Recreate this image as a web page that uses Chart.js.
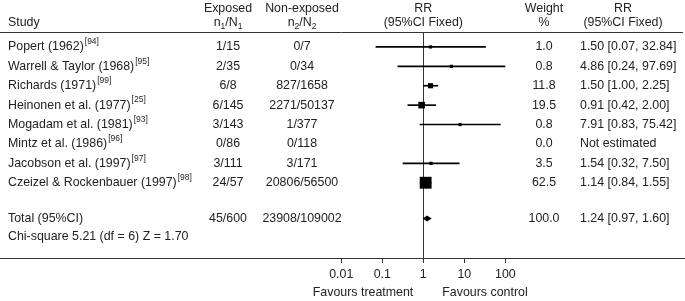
<!DOCTYPE html>
<html>
<head>
<meta charset="utf-8">
<script src="https://cdn.jsdelivr.net/npm/chart.js@4.4.1/dist/chart.umd.min.js"></script>
<style>
html, body { margin: 0; padding: 0; background: #fff; }
</style>
</head>
<body>
<canvas id="myChart" width="685" height="301"></canvas>
<script>
// study rows
var studies = ['Popert (1962)', 'Warrell & Taylor (1968)', 'Richards (1971)', 'Heinonen et al. (1977)',
    'Mogadam et al. (1981)', 'Mintz et al. (1986)', 'Jacobson et al. (1997)', 'Czeizel & Rockenbauer (1997)'];
var refs = ['[94]', '[95]', '[99]', '[25]', '[93]', '[96]', '[97]', '[98]'];
var exposed = ['1/15', '2/35', '6/8', '6/145', '3/143', '0/86', '3/111', '24/57'];
var nonExposed = ['0/7', '0/34', '827/1658', '2271/50137', '1/377', '0/118', '3/171', '20806/56500'];
var rr = [1.50, 4.86, 1.50, 0.91, 7.91, null, 1.54, 1.14];
var lower = [0.07, 0.24, 1.00, 0.42, 0.83, null, 0.32, 0.84];
var upper = [32.84, 97.69, 2.25, 2.00, 75.42, null, 7.50, 1.55];
var weight = [1.0, 0.8, 11.8, 19.5, 0.8, 0.0, 3.5, 62.5];

// pooled result
var totalLabel = 'Total (95%CI)';
var totalExposed = '45/600';
var totalNonExposed = '23908/109002';
var totalRR = 1.24;
var totalLower = 0.97;
var totalUpper = 1.60;
var totalWeight = 100.0;
var hetText = 'Chi-square 5.21 (df = 6) Z = 1.70';

var tickValues = [0.01, 0.1, 1, 10, 100];
var favLeft = 'Favours treatment';
var favRight = 'Favours control';

// layout (row index -> y scale)
var totalRow = 8.85;
var hetRow = 9.8;
var FONT = "'Liberation Sans', Arial, sans-serif";
var FS = 12.4;
var TXT = '#222';

function rrLabel(r, lo, hi) {
    if (r == null) return 'Not estimated';
    return r.toFixed(2) + ' [' + lo.toFixed(2) + ', ' + hi.toFixed(2) + ']';
}

var ciData = [];
var ptData = [];
var ptSize = [];
studies.forEach(function (s, i) {
    if (rr[i] == null) return;
    ciData.push({ x: [lower[i], upper[i]], y: i });
    ptData.push({ x: rr[i], y: i });
    var side = Math.max(3.2, 1.5 * Math.sqrt(weight[i]));
    ptSize.push(side / Math.SQRT2);
});

var tablePlugin = {
    id: 'tablePlugin',
    beforeDatasetsDraw: function (chart) {
        var ctx = chart.ctx, xs = chart.scales.x, ys = chart.scales.y;
        var ruleY = Math.round(ys.getPixelForValue(-0.75)) + 0.5;
        var x1 = Math.round(xs.getPixelForValue(1)) + 0.5;
        ctx.save();
        ctx.strokeStyle = '#333';
        ctx.lineWidth = 1;
        ctx.beginPath();
        ctx.moveTo(0, ruleY); ctx.lineTo(chart.width - 2, ruleY);
        ctx.moveTo(x1, ruleY); ctx.lineTo(x1, chart.chartArea.bottom);
        ctx.stroke();
        ctx.restore();
    },
    afterDraw: function (chart) {
        var ctx = chart.ctx, xs = chart.scales.x, ys = chart.scales.y;
        var colStudy = 8, colExp = 228, colNon = 302, colW = 544, colRR = 580, colRRh = 623;
        var colPlot = xs.getPixelForValue(1);
        var h1 = ys.getPixelForValue(-2.0), h2 = ys.getPixelForValue(-1.25);
        var big = FS + 'px ' + FONT, small = '8.5px ' + FONT;
        ctx.save();
        ctx.fillStyle = TXT;
        ctx.textBaseline = 'middle';
        ctx.font = big;

        function txt(t, x, y, align) { ctx.textAlign = align || 'center'; ctx.fillText(t, x, y); }
        function sub(a, b, c, d, x, y) {
            // n_1/N_1 style header, centred at x
            ctx.font = big;
            var wa = ctx.measureText(a).width, wc = ctx.measureText(c).width;
            ctx.font = small;
            var wb = ctx.measureText(b).width, wd = ctx.measureText(d).width;
            var left = x - (wa + wb + wc + wd) / 2;
            ctx.textAlign = 'left';
            ctx.font = big; ctx.fillText(a, left, y);
            ctx.font = small; ctx.fillText(b, left + wa, y + 4);
            ctx.font = big; ctx.fillText(c, left + wa + wb, y);
            ctx.font = small; ctx.fillText(d, left + wa + wb + wc, y + 4);
            ctx.font = big;
        }

        // headers
        txt('Study', colStudy, h2, 'left');
        txt('Exposed', colExp, h1);
        sub('n', '1', '/N', '1', colExp, h2);
        txt('Non-exposed', colNon, h1);
        sub('n', '2', '/N', '2', colNon, h2);
        txt('RR', colPlot, h1);
        txt('(95%CI Fixed)', colPlot, h2);
        txt('Weight', colW, h1);
        txt('%', colW, h2);
        txt('RR', colRRh, h1);
        txt('(95%CI Fixed)', colRRh, h2);

        // study rows
        studies.forEach(function (s, i) {
            var y = ys.getPixelForValue(i);
            ctx.font = big;
            txt(s, colStudy, y, 'left');
            var w = ctx.measureText(s).width;
            ctx.font = small;
            txt(refs[i], colStudy + w + 1, y - 5, 'left');
            ctx.font = big;
            txt(exposed[i], colExp, y);
            txt(nonExposed[i], colNon, y);
            txt(weight[i].toFixed(1), colW, y);
            txt(rrLabel(rr[i], lower[i], upper[i]), colRR, y, 'left');
        });

        // total row
        var ty = ys.getPixelForValue(totalRow);
        txt(totalLabel, colStudy, ty, 'left');
        txt(totalExposed, colExp, ty);
        txt(totalNonExposed, colNon, ty);
        txt(totalWeight.toFixed(1), colW, ty);
        txt(rrLabel(totalRR, totalLower, totalUpper), colRR, ty, 'left');
        txt(hetText, colStudy, ys.getPixelForValue(hetRow), 'left');

        // pooled diamond
        var dl = xs.getPixelForValue(totalLower), dr = xs.getPixelForValue(totalUpper), dc = xs.getPixelForValue(totalRR);
        ctx.fillStyle = '#000';
        ctx.beginPath();
        ctx.moveTo(dl, ty); ctx.lineTo(dc, ty - 3); ctx.lineTo(dr, ty); ctx.lineTo(dc, ty + 3);
        ctx.closePath();
        ctx.fill();

        // favours labels
        ctx.fillStyle = TXT;
        var fy = chart.chartArea.bottom + 35;
        txt(favLeft, colPlot - 10, fy, 'right');
        txt(favRight, colPlot + 19, fy, 'left');
        ctx.restore();
    }
};

var ctx = document.getElementById('myChart');
new Chart(ctx, {
    data: {
        datasets: [
            {
                type: 'bar',
                indexAxis: 'y',
                data: ciData,
                backgroundColor: '#000',
                borderWidth: 0,
                barThickness: 1
            },
            {
                type: 'scatter',
                data: ptData,
                pointStyle: 'rect',
                pointRadius: ptSize,
                backgroundColor: '#000',
                borderWidth: 0
            }
        ]
    },
    options: {
        responsive: false,
        animation: false,
        devicePixelRatio: 1,
        layout: { padding: 0, autoPadding: false },
        plugins: { legend: { display: false }, tooltip: { enabled: false } },
        scales: {
            x: {
                type: 'logarithmic',
                min: Math.pow(10, -10.32),
                max: Math.pow(10, 6.38),
                afterBuildTicks: function (scale) {
                    scale.ticks = tickValues.map(function (v) { return { value: v }; });
                },
                afterFit: function (scale) { scale.height = 43; },
                grid: { display: true, drawOnChartArea: false, drawTicks: true, tickLength: 5, color: '#333' },
                border: { display: true, color: '#333', width: 1 },
                ticks: {
                    color: TXT,
                    padding: 4,
                    maxRotation: 0,
                    autoSkip: false,
                    font: { family: FONT, size: FS },
                    callback: function (v) { return String(v); }
                }
            },
            y: {
                type: 'linear',
                display: false,
                offset: false,
                grid: { offset: false },
                reverse: true,
                min: -2.42,
                max: 10.88
            }
        }
    },
    plugins: [tablePlugin]
});
</script>
</body>
</html>
